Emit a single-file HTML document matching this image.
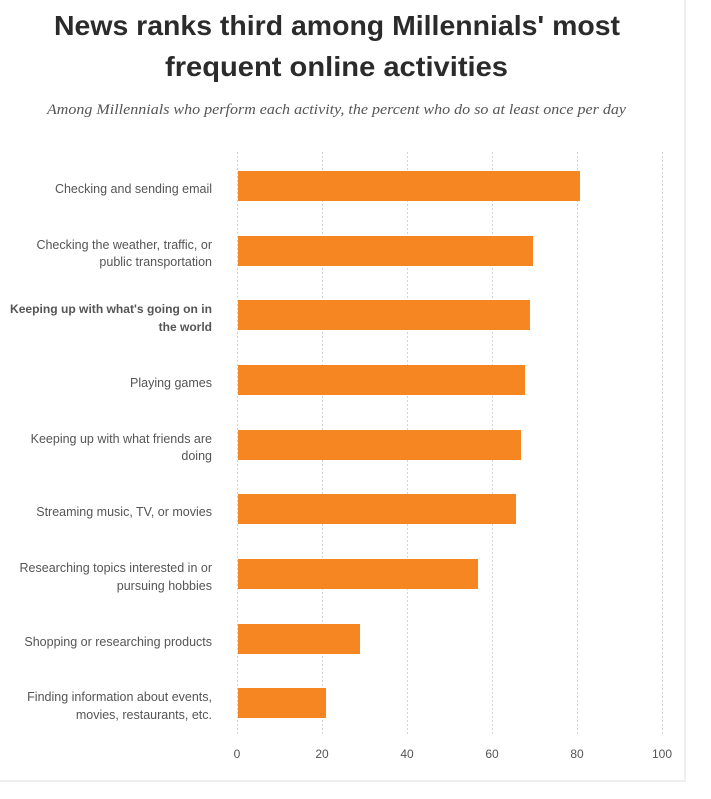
<!DOCTYPE html>
<html><head><meta charset="utf-8"><style>
html,body{margin:0;padding:0;background:#fff;}
body{width:711px;height:799px;overflow:hidden;position:relative;}
</style></head><body>
<svg width="711" height="799" xmlns="http://www.w3.org/2000/svg" style="position:absolute;left:0;top:0">
<line x1="685" y1="0" x2="685" y2="782" stroke="#eeeeee" stroke-width="2"/>
<line x1="0" y1="781" x2="686" y2="781" stroke="#eeeeee" stroke-width="2"/>
<g font-family="Liberation Sans, sans-serif" font-weight="bold" font-size="28" fill="#2b2b2b">
<text x="54" y="35" textLength="566" lengthAdjust="spacingAndGlyphs">News ranks third among Millennials' most</text>
<text x="165" y="76" textLength="343" lengthAdjust="spacingAndGlyphs">frequent online activities</text>
</g>
<text x="47" y="114" textLength="579" lengthAdjust="spacingAndGlyphs" font-family="Liberation Serif, serif" font-style="italic" font-size="15" fill="#555">Among Millennials who perform each activity, the percent who do so at least once per day</text>
<g stroke="#d4d4d4" stroke-width="1" stroke-dasharray="2,2">
<line x1="237.5" y1="152" x2="237.5" y2="735"/>
<line x1="322.5" y1="152" x2="322.5" y2="735"/>
<line x1="407.5" y1="152" x2="407.5" y2="735"/>
<line x1="492.5" y1="152" x2="492.5" y2="735"/>
<line x1="577.5" y1="152" x2="577.5" y2="735"/>
<line x1="662.5" y1="152" x2="662.5" y2="735"/>
</g>
<g fill="#f58621">
<rect x="238" y="171" width="342" height="30"/>
<rect x="238" y="236" width="295" height="30"/>
<rect x="238" y="300" width="292" height="30"/>
<rect x="238" y="365" width="287" height="30"/>
<rect x="238" y="430" width="283" height="30"/>
<rect x="238" y="494" width="278" height="30"/>
<rect x="238" y="559" width="240" height="30"/>
<rect x="238" y="624" width="122" height="30"/>
<rect x="238" y="688" width="88" height="30"/>
</g>
<g font-family="Liberation Sans, sans-serif" font-size="12.5" fill="#555" text-anchor="end">
<text x="212" y="193">Checking and sending email</text>
<text x="212" y="249">Checking the weather, traffic, or</text>
<text x="212" y="266">public transportation</text>
<text x="212" y="313" font-weight="bold" font-size="12" textLength="202" lengthAdjust="spacingAndGlyphs">Keeping up with what's going on in</text>
<text x="212" y="331" font-weight="bold" font-size="12">the world</text>
<text x="212" y="387">Playing games</text>
<text x="212" y="443">Keeping up with what friends are</text>
<text x="212" y="460">doing</text>
<text x="212" y="516">Streaming music, TV, or movies</text>
<text x="212" y="572">Researching topics interested in or</text>
<text x="212" y="590">pursuing hobbies</text>
<text x="212" y="646">Shopping or researching products</text>
<text x="212" y="701">Finding information about events,</text>
<text x="212" y="719">movies, restaurants, etc.</text>
</g>
<g font-family="Liberation Sans, sans-serif" font-size="12" fill="#555" text-anchor="middle">
<text x="237" y="758">0</text>
<text x="322" y="758">20</text>
<text x="407" y="758">40</text>
<text x="492" y="758">60</text>
<text x="577" y="758">80</text>
<text x="662" y="758">100</text>
</g>
</svg>
</body></html>
